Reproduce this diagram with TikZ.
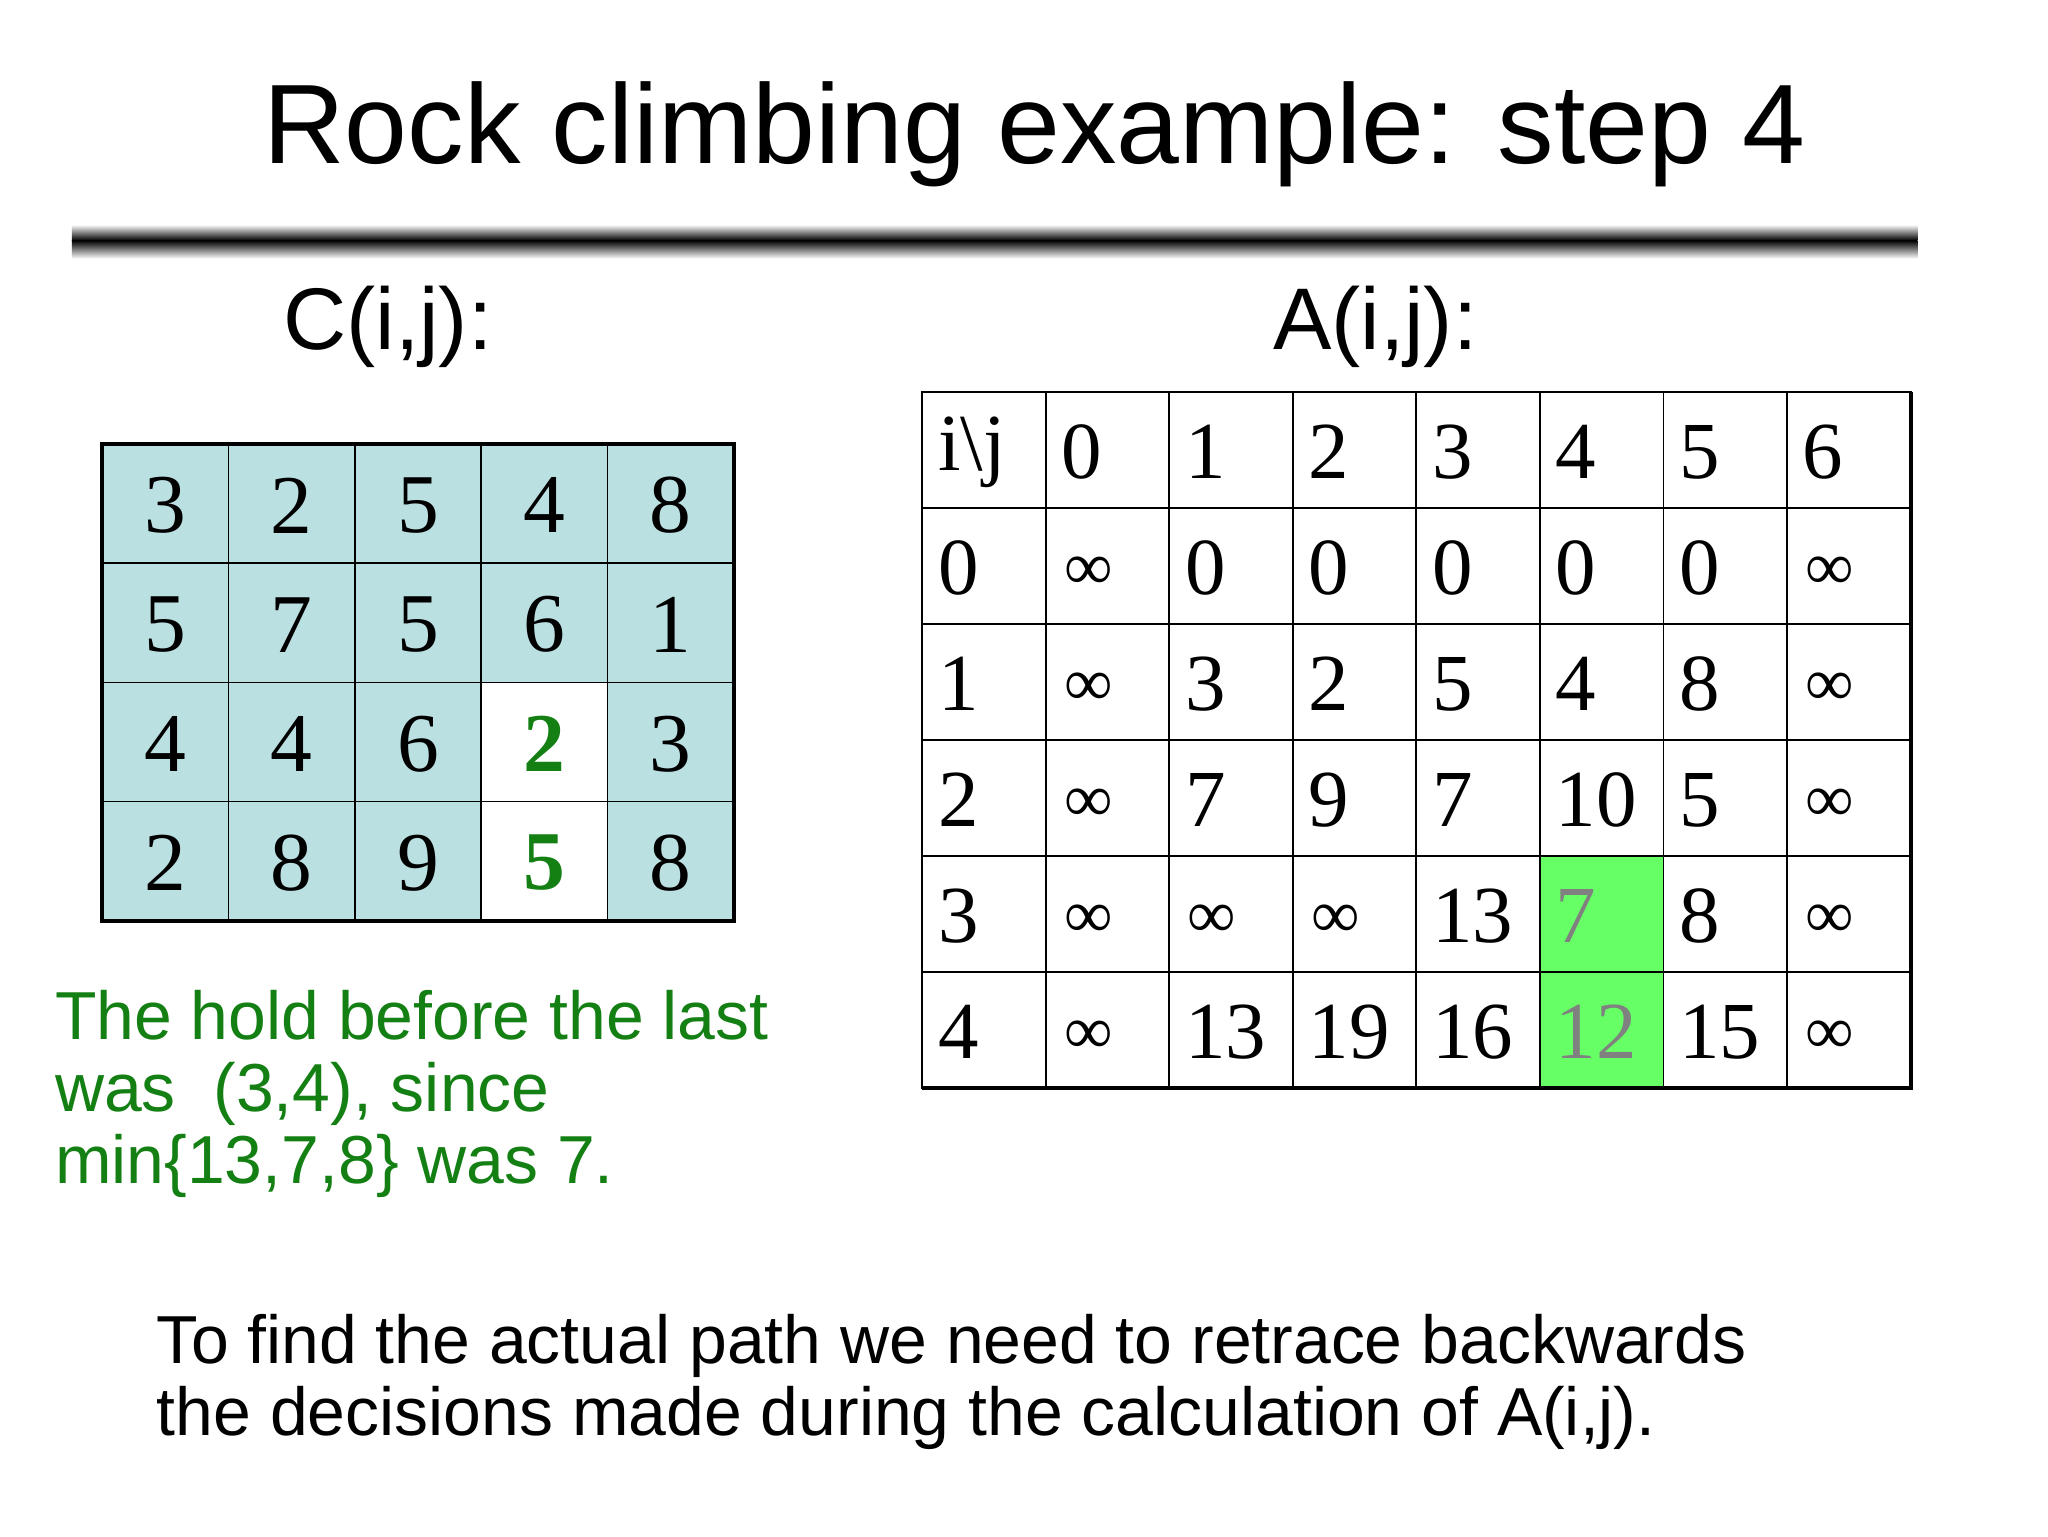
\documentclass[tikz,border=0pt]{standalone}
\usepackage{fontspec}
\setmainfont{Liberation Serif}
\newfontfamily\arial{Liberation Sans}
\definecolor{cblue}{RGB}{187,224,226}
\definecolor{dgreen}{RGB}{20,128,20}
\definecolor{lgreen}{RGB}{102,255,102}
\begin{document}
\begin{tikzpicture}[x=1pt,y=-1pt,
  num/.style={font=\fontsize{64}{64}\selectfont,inner sep=0pt},
  anum/.style={font=\fontsize{62}{62}\selectfont,inner sep=0pt,anchor=west},
  inf/.style={font=\fontsize{52}{52}\selectfont,inner sep=0pt,anchor=west},
  sans/.style={font=\arial\fontsize{52}{55}\selectfont,align=left,inner sep=0pt}]
\useasboundingbox (0,0) rectangle (1568,1176);
\fill[white] (0,0) rectangle (1568,1176);
\node[font=\arial\fontsize{86.5}{86.5}\selectfont,inner sep=0pt] (title) at (792,103) {Rock climbing example: step 4};
\shade[top color=white,bottom color=black] (55,172) rectangle (1468,184);
\shade[top color=black,bottom color=white] (55,184) rectangle (1468,198);
\node[font=\arial\fontsize{67}{67}\selectfont,inner sep=0pt] (clab) at (297,250) {C(i,j):};
\node[font=\arial\fontsize{67}{67}\selectfont,inner sep=0pt] (alab) at (1053,250) {A(i,j):};
% C grid
\fill[cblue] (78,340) rectangle (562,705);
\fill[white] (369,522) rectangle (465,705);
\foreach \r [count=\i from 0] in {{3,2,5,4,8},{5,7,5,6,1},{4,4,6,2,3},{2,8,9,5,8}}{
  \foreach \v [count=\j from 0] in \r {
    \ifnum\j=3 \ifnum\i>1
      \node[num,text=dgreen,font=\bfseries\fontsize{64}{64}\selectfont] (c\i\j) at ({78+96.8*\j+48.4},{340+91.25*\i+47}) {\v};
    \else
      \node[num] (c\i\j) at ({78+96.8*\j+48.4},{340+91.25*\i+47}) {\v};
    \fi\else
      \node[num] (c\i\j) at ({78+96.8*\j+48.4},{340+91.25*\i+47}) {\v};
    \fi
  }
}
\foreach \k in {1,...,4} \draw[line width=1.2] ({78+96.8*\k},340) -- ({78+96.8*\k},705);
\foreach \k in {1,...,3} \draw[line width=1.2] (78,{340+91.25*\k}) -- (562,{340+91.25*\k});
\draw[line width=3] (78,340) rectangle (562,705);
% A grid
\fill[lgreen] ({706+94.6*5},{300+88.8*4}) rectangle ({706+94.6*6},{300+88.8*6});
\foreach \r [count=\i from 0] in {{i\textbackslash j,0,1,2,3,4,5,6},{0,I,0,0,0,0,0,I},{1,I,3,2,5,4,8,I},{2,I,7,9,7,10,5,I},{3,I,11,11,13,7,8,I},{4,I,13,19,16,12,15,I}}{
  \foreach \v [count=\j from 0] in \r {
    \ifnum\j=5 \ifnum\i>3
      \node[anum,text=gray] (a\i\j) at ({706+94.6*\j+12},{300+88.8*\i+46}) {\v};
    \else
      \node[anum] (a\i\j) at ({706+94.6*\j+12},{300+88.8*\i+46}) {\v};
    \fi\else
      \if\v I
        \node[inf] (a\i\j) at ({706+94.6*\j+14},{300+88.8*\i+50}) {∞};
      \else
        \node[anum] (a\i\j) at ({706+94.6*\j+12},{300+88.8*\i+46}) {\v};
      \fi
    \fi
  }
}
\foreach \k in {1,...,7} \draw[line width=1.5] ({706+94.6*\k},300) -- ({706+94.6*\k},833);
\foreach \k in {1,...,5} \draw[line width=1.5] (706,{300+88.8*\k}) -- (1463,{300+88.8*\k});
\draw[line width=1.5] (706,300) rectangle (1463,833);
\draw[line width=3] (706,833) -- (1463,833) -- (1463,300);
\node[sans,text=dgreen,anchor=north west] (note) at (42,758) {The hold before the last\\was~ (3,4), since\\min\{13,7,8\} was 7.};
\node[sans,anchor=north west] (bottom) at (120,1006) {To find the actual path we need to retrace backwards\\the decisions made during the calculation of A(i,j).};
\end{tikzpicture}
\end{document}
